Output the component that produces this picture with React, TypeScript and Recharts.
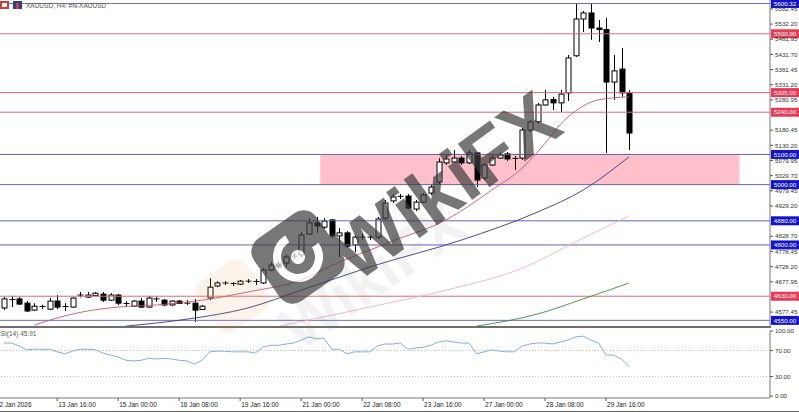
import React from "react";
import { ComposedChart, Bar, Line, XAxis, YAxis, ReferenceLine, ReferenceArea } from "recharts";

const FONT = "'Liberation Sans', Arial, sans-serif";
const SLOTS = 101; // 83 bars + empty shift area on the right

const opens = [
  4591, 4617, 4621, 4607, 4584, 4594, 4587, 4614, 4594, 4594,
  4631, 4627, 4632, 4637, 4617, 4634, 4604, 4597, 4614, 4594,
  4621, 4617, 4601, 4614, 4607, 4607, 4586, 4624, 4664, 4672,
  4672, 4670, 4680, 4677, 4674, 4717, 4737, 4740, 4762, 4767,
  4836, 4873, 4859, 4883, 4830, 4840, 4800, 4826, 4825, 4826,
  4889, 4946, 4959, 4962, 4919, 4942, 4972, 5009, 5072, 5075,
  5088, 5072, 5105, 5022, 5065, 5088, 5102, 5085, 5088, 5181,
  5208, 5264, 5282, 5271, 5304, 5427, 5549, 5569, 5519, 5514,
  5340, 5383, 5304,
];
const closes = [
  4621, 4619, 4604, 4581, 4597, 4596, 4614, 4594, 4596, 4624,
  4634, 4634, 4640, 4617, 4634, 4607, 4606, 4614, 4594, 4624,
  4619, 4601, 4614, 4606, 4606, 4584, 4597, 4660, 4674, 4674,
  4670, 4680, 4679, 4679, 4717, 4733, 4727, 4760, 4763, 4833,
  4873, 4863, 4879, 4830, 4840, 4796, 4826, 4825, 4826, 4886,
  4939, 4959, 4961, 4922, 4942, 4966, 4992, 5075, 5085, 5088,
  5072, 5105, 5015, 5065, 5088, 5098, 5085, 5087, 5181, 5208,
  5264, 5281, 5271, 5300, 5420, 5549, 5569, 5519, 5514, 5340,
  5377, 5304, 5171,
];
const highs = [
  4627, 4631, 4627, 4614, 4607, 4602, 4624, 4634, 4607, 4627,
  4644, 4644, 4644, 4644, 4640, 4637, 4614, 4617, 4624, 4631,
  4627, 4621, 4617, 4617, 4617, 4621, 4601, 4690, 4680, 4680,
  4677, 4684, 4687, 4687, 4723, 4743, 4747, 4767, 4773, 4843,
  4889, 4893, 4889, 4886, 4856, 4846, 4833, 4836, 4833, 4893,
  4949, 4969, 4969, 4969, 4949, 4972, 4999, 5088, 5098, 5115,
  5095, 5115, 5108, 5072, 5095, 5108, 5108, 5095, 5188, 5214,
  5271, 5314, 5291, 5314, 5430, 5602, 5576, 5599, 5546, 5553,
  5430, 5453, 5314,
];
const lows = [
  4584, 4594, 4601, 4578, 4581, 4587, 4584, 4587, 4581, 4591,
  4626, 4624, 4631, 4611, 4614, 4601, 4594, 4594, 4591, 4591,
  4611, 4597, 4597, 4604, 4601, 4544, 4584, 4617, 4660, 4667,
  4664, 4667, 4674, 4667, 4670, 4713, 4720, 4727, 4753, 4760,
  4833, 4840, 4853, 4823, 4760, 4790, 4776, 4816, 4816, 4820,
  4883, 4939, 4952, 4919, 4912, 4939, 4966, 5002, 5065, 5072,
  5065, 5068, 4992, 5015, 5062, 5085, 5078, 5048, 5082, 5174,
  5201, 5261, 5247, 5241, 5277, 5423, 5506, 5480, 5473, 5105,
  5281, 5291, 5115,
];

const rsi14 = [
  81.5, 81.5, 77, 71, 72, 72, 72, 68, 65, 69,
  72, 72, 71, 66, 63, 60, 55, 54, 55, 58,
  57, 58, 57, 55, 54, 49, 55, 68, 69, 69,
  68, 68, 68, 66, 75, 78, 78, 80, 81.5, 86,
  91, 88, 89, 72, 72, 65, 68, 68, 68, 77,
  80, 80, 81.5, 72, 74, 75, 78, 83, 85, 83,
  81.5, 81.5, 65, 68, 71, 69, 68, 68, 77, 80,
  81.5, 81.5, 80, 83, 86, 91, 92, 86, 81.5, 63,
  63, 57, 45.91,
];

// moving averages read at a few bars, [bar, price]
const maFast: [number, number][] = [
  [4, 4534], [7, 4558], [11, 4581], [15, 4594], [20, 4601], [26, 4617], [32, 4644],
  [39, 4684], [44, 4743], [48, 4783], [51, 4813], [58, 4883], [64, 4982], [68, 5055],
  [70, 5108], [74, 5224], [78, 5281], [82, 5291],
];
const maMid: [number, number][] = [
  [16, 4531], [24, 4554], [32, 4591], [39, 4650], [48, 4727], [60, 4816], [70, 4909],
  [76, 4982], [82, 5092],
];
const maSlow: [number, number][] = [
  [36, 4530], [48, 4594], [58, 4650], [68, 4723], [76, 4823], [82, 4896],
];
const maLong: [number, number][] = [
  [62, 4531], [70, 4571], [76, 4621], [82, 4674],
];

const priceTicks = [
  5582.45, 5532.2, 5481.95, 5431.7, 5381.45, 5331.2, 5280.95, 5180.45, 5130.2,
  5079.95, 5029.7, 4979.45, 4929.2, 4828.7, 4778.45, 4728.2, 4677.95, 4577.45,
];

const levelPrices = [5600.32, 5500, 5305, 5240, 5100, 5000, 4880, 4800, 4630, 4550];
const levelKinds = ["blue", "red", "red", "red", "navy", "navy", "navy", "navy", "red", "blue"];

const timeLabels: [number, string][] = [
  [0, "12 Jan 2026"], [7, "13 Jan 16:00"], [15, "15 Jan 00:00"], [23, "16 Jan 08:00"],
  [31, "19 Jan 16:00"], [39, "21 Jan 00:00"], [47, "22 Jan 08:00"], [55, "23 Jan 16:00"],
  [63, "27 Jan 00:00"], [71, "28 Jan 08:00"], [79, "29 Jan 16:00"],
];

const fastMap = new Map(maFast);
const midMap = new Map(maMid);
const slowMap = new Map(maSlow);
const longMap = new Map(maLong);
const labelMap = new Map(timeLabels.map(([i, s]) => [String(i), s]));

const rows = Array.from({ length: SLOTS }, (_, i) => ({
  i: String(i),
  o: opens[i] ?? null,
  h: highs[i] ?? null,
  l: lows[i] ?? null,
  c: closes[i] ?? null,
  rsi: rsi14[i] ?? null,
  fast: fastMap.get(i) ?? null,
  mid: midMap.get(i) ?? null,
  slow: slowMap.get(i) ?? null,
  long: longMap.get(i) ?? null,
}));

const lineCol = { red: "#d66a7c", blue: "#7070cc", navy: "#6464a8" };
const tagCol = { red: "#e63a55", blue: "#1414c8", navy: "#1414c8" };

function Candle(props: any) {
  const { x, y, width, height, payload } = props;
  if (!payload || payload.o == null) return null;
  const { o, h, l, c } = payload;
  const top = Math.min(y, y + height);
  const k = h === l ? 0 : Math.abs(height) / (h - l);
  const cx = Math.round(x + width / 2) + 0.5;
  const yo = top + (h - o) * k;
  const yc = top + (h - c) * k;
  const bt = Math.min(yo, yc);
  const bb = Math.max(yo, yc);
  const up = c >= o;
  return (
    <g>
      <line x1={cx} x2={cx} y1={top} y2={top + Math.abs(height)} stroke="#000" strokeWidth={1} />
      {bb - bt < 1 ? (
        <line x1={cx - 3} x2={cx + 3} y1={bt} y2={bt} stroke="#000" strokeWidth={1} />
      ) : (
        <rect x={cx - 2.5} y={bt} width={5} height={bb - bt} fill={up ? "#fff" : "#000"} stroke="#000" strokeWidth={1} />
      )}
    </g>
  );
}

function LevelTag(props: any) {
  const { viewBox, text, bg } = props;
  if (!viewBox) return null;
  const x = viewBox.x + viewBox.width + 1;
  const y = viewBox.y;
  return (
    <g>
      <rect x={x} y={y - 4.5} width={28} height={9} fill={bg} />
      <text x={x + 14} y={y + 2.2} textAnchor="middle" fontSize={6.2} fill="#fff" fontFamily={FONT}>
        {text}
      </text>
    </g>
  );
}

function TimeTick(props: any) {
  const { x, y, payload } = props;
  const label = labelMap.get(payload.value);
  if (!label) return null;
  const first = payload.value === "0";
  return (
    <g>
      {!first && <line x1={x} x2={x} y1={y} y2={y + 3} stroke="#555" />}
      <text x={first ? x - 8 : x + 1} y={y + 9} fontSize={6.5} fill="#222" fontFamily={FONT}>
        {label}
      </text>
    </g>
  );
}

const axisTick = { fontSize: 6.2, fill: "#333", fontFamily: FONT };

export default function App() {
  return (
    <div style={{ position: "relative", width: 799, height: 412, background: "#fff", overflow: "hidden" }}>
      <style>{`body{margin:0}`}</style>
      {/* price panel */}
      <div style={{ position: "absolute", left: 0, top: 0 }}>
        <ComposedChart width={799} height={327} data={rows} margin={{ top: 0, right: 0, bottom: 0, left: 0 }} barCategoryGap={0}>
          <XAxis dataKey="i" type="category" scale="band" hide />
          <YAxis
            orientation="right"
            width={29}
            domain={[4528, 5612]}
            allowDataOverflow
            ticks={priceTicks}
            interval={0}
            tickSize={3}
            tickMargin={2}
            tick={axisTick}
            tickLine={{ stroke: "#555" }}
            axisLine={{ stroke: "#777" }}
            tickFormatter={(v: number) => v.toFixed(2)}
          />
          <ReferenceArea x1="42" x2="96" y1={5000} y2={5100} fill="#ffc0cb" fillOpacity={1} stroke="none" />
          {levelPrices.map((p, k) => (
            <ReferenceLine
              key={p}
              y={p}
              stroke={lineCol[levelKinds[k] as keyof typeof lineCol]}
              strokeWidth={1}
              label={<LevelTag text={p.toFixed(2)} bg={tagCol[levelKinds[k] as keyof typeof tagCol]} />}
            />
          ))}
          <Line dataKey="long" type="monotone" stroke="#3b8a40" strokeWidth={0.9} dot={false} connectNulls isAnimationActive={false} />
          <Line dataKey="slow" type="monotone" stroke="#f2b0bc" strokeWidth={0.9} dot={false} connectNulls isAnimationActive={false} />
          <Line dataKey="mid" type="monotone" stroke="#34397a" strokeWidth={0.9} dot={false} connectNulls isAnimationActive={false} />
          <Line dataKey="fast" type="monotone" stroke="#c8566a" strokeWidth={0.9} dot={false} connectNulls isAnimationActive={false} />
          <Bar
            dataKey={(d: any) => (d.o == null ? null : [d.l, d.h])}
            shape={(p: any) => <Candle {...p} />}
            isAnimationActive={false}
          />
        </ComposedChart>
      </div>

      {/* RSI panel */}
      <div style={{ position: "absolute", left: 0, top: 327 }}>
        <ComposedChart width={799} height={85} data={rows} margin={{ top: 4, right: 0, bottom: 0, left: 0 }}>
          <XAxis
            dataKey="i"
            type="category"
            scale="band"
            height={14}
            ticks={timeLabels.map(([i]) => String(i))}
            interval={0}
            tickSize={0}
            tickMargin={0}
            tick={<TimeTick />}
            axisLine={{ stroke: "#777" }}
          />
          <YAxis
            orientation="right"
            width={29}
            domain={[-3, 100]}
            ticks={[0, 30, 70, 100]}
            interval={0}
            tickSize={3}
            tickMargin={2}
            tick={axisTick}
            tickLine={{ stroke: "#555" }}
            axisLine={{ stroke: "#777" }}
            tickFormatter={(v: number) => v.toFixed(2)}
          />
          <ReferenceLine y={70} stroke="#c4c4c4" strokeDasharray="1 2" />
          <ReferenceLine y={30} stroke="#c4c4c4" strokeDasharray="1 2" />
          <Line dataKey="rsi" type="linear" stroke="#7fb1d6" strokeWidth={1} dot={false} isAnimationActive={false} />
        </ComposedChart>
      </div>

      {/* frame, captions and watermark */}
      <svg width={799} height={412} style={{ position: "absolute", left: 0, top: 0, pointerEvents: "none" }}>
        <line x1={0} x2={771} y1={327} y2={327} stroke="#6e6e6e" strokeWidth={2} />
        <line x1={0} x2={799} y1={411.5} y2={411.5} stroke="#666" strokeWidth={1} />
        <rect x={0} y={1} width={9} height={8} fill="#d23a3a" />
        <rect x={2} y={3} width={5} height={4} fill="#fff" />
        <rect x={13} y={1} width={9} height={8} fill="#283c8c" />
        <rect x={16} y={3} width={3} height={6} fill="#d23a3a" />
        <text x={26} y={8} fontSize={6.5} fill="#555" fontFamily={FONT}>XAUUSD, H4:  #N-XAUUSD</text>
        <text x={-4} y={336} fontSize={6.5} fill="#555" fontFamily={FONT}>RSI(14) 45.91</text>

        <g opacity={0.1}>
          <g transform="translate(232 296) rotate(-35)">
            <rect x={-30} y={-30} width={60} height={60} rx={12} fill="#e8a040" />
          </g>
          <text transform="translate(300 352) rotate(-35)" fontSize={62} fontWeight="bold" fill="#888" fontFamily={FONT}>WikiFX</text>
        </g>

        <g opacity={0.7}>
          <g transform="translate(298 257) rotate(-35)">
            <rect x={-38} y={-38} width={76} height={76} rx={16} fill="#3e3e3e" />
            <circle r={21} fill="none" stroke="#fff" strokeWidth={8} strokeDasharray="100 32" />
            <circle r={7} fill="#fff" />
          </g>
          <text transform="translate(356 284) rotate(-36)" fontSize={78} fontWeight="bold" fill="#3e3e3e" fontFamily={FONT}>WikiFX</text>
        </g>
      </svg>
    </div>
  );
}
